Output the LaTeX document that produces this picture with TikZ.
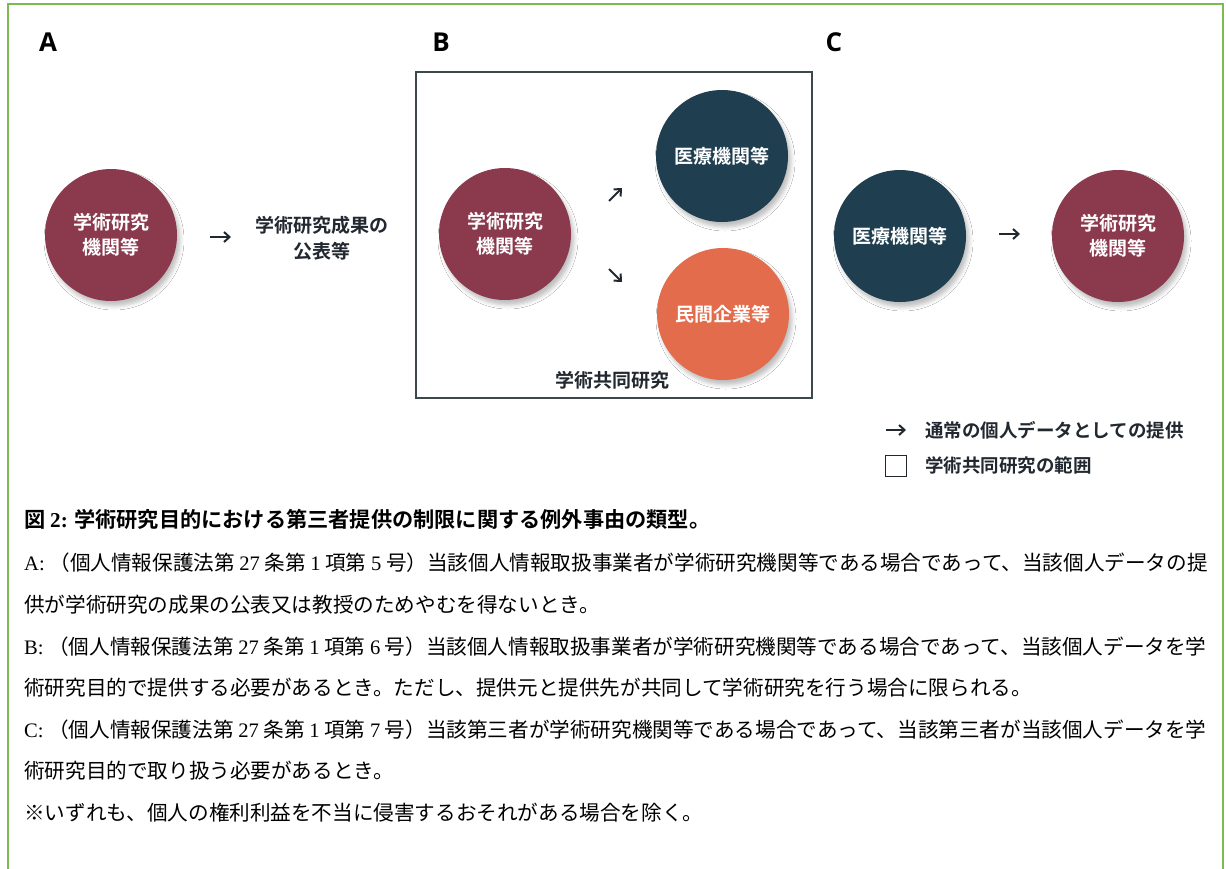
\documentclass[tikz,border=0pt]{standalone}
\usepackage{fontspec}
\newfontfamily\jp[BoldFont={Noto Sans CJK JP Bold}]{Noto Sans CJK JP}
\newfontfamily\ser{Liberation Serif}
\newfontfamily\osans{Open Sans}
\usetikzlibrary{arrows.meta,shadows.blur}
\definecolor{maroon}{RGB}{139,58,78}
\definecolor{tealc}{RGB}{31,63,80}
\definecolor{orng}{RGB}{226,108,75}
\definecolor{framec}{RGB}{125,187,80}
\definecolor{ink}{RGB}{34,40,48}
\definecolor{boxline}{RGB}{60,72,74}
\newcommand{\lat}[1]{{\ser #1}}
\tikzset{
  circ/.style={circle, minimum size=132pt, inner sep=0pt, text=white,
    font=\jp\bfseries\fontsize{19}{25}\selectfont, align=center,
    blur shadow={shadow xshift=3pt, shadow yshift=-5pt, shadow blur radius=4pt, shadow opacity=25}},
  lab/.style={font=\osans\bfseries\fontsize{26}{30}\selectfont, text=black, inner sep=0pt},
  dtext/.style={font=\jp\bfseries\fontsize{19}{26}\selectfont, text=ink, align=center, inner sep=0pt},
  conn/.style={-{Straight Barb[length=5.5pt,width=10pt,line width=2pt]}, line width=2pt, draw=ink},
  legtext/.style={font=\jp\bfseries\fontsize{18.5}{22}\selectfont, text=ink, anchor=west, inner sep=0pt},
  body/.style={font=\jp\fontsize{20.6}{24}\selectfont, text=black, anchor=west, inner sep=0pt},
  captext/.style={font=\jp\bfseries\fontsize{21.2}{24}\selectfont, text=black, anchor=west, inner sep=0pt}
}
\begin{document}
\begin{tikzpicture}[x=1pt,y=-1pt]
\useasboundingbox (0,0) rectangle (1226,868);
\fill[white] (0,0) rectangle (1226,868);
% frame
\draw[framec, line width=2pt] (8,870) -- (8,4) -- (1223,4) -- (1223,870);
% labels
\node[lab] (labA) at (48,42) {A};
\node[lab] (labB) at (441,42) {B};
\node[lab] (labC) at (834,42) {C};
% A
\node[circ, fill=maroon] (a1) at (111,235) {学術研究\\機関等};
\node[dtext] (a2) at (322,238) {学術研究成果の\\公表等};
\coordinate (as) at (210,237);
\coordinate (ae) at (231,237);
\draw[conn] (as) -- (ae);
% B
\node[draw=boxline, line width=2pt, minimum width=396pt, minimum height=326pt, inner sep=0pt] (boxB) at (614,235) {};
\node[circ, fill=maroon] (b1) at (505,234) {学術研究\\機関等};
\node[circ, fill=tealc] (b2) at (722,156) {医療機関等};
\node[circ, fill=orng] (b3) at (723,314) {民間企業等};
\node[dtext] (bt) at (612,380) {学術共同研究};
\coordinate (bus) at (609,201);
\coordinate (bue) at (622,188);
\coordinate (bds) at (609,269);
\coordinate (bde) at (622,282);
\draw[conn] (bus) -- (bue);
\draw[conn] (bds) -- (bde);
% C
\node[circ, fill=tealc] (c1) at (900,236) {医療機関等};
\node[circ, fill=maroon] (c2) at (1118,236) {学術研究\\機関等};
\coordinate (cs) at (999,234);
\coordinate (ce) at (1020,234);
\draw[conn] (cs) -- (ce);
% legend
\coordinate (ls) at (886,430);
\coordinate (le) at (906,430);
\draw[conn] (ls) -- (le);
\node[legtext] (lt1) at (925,430) {通常の個人データとしての提供};
\node[draw=ink, line width=1.6pt, minimum size=21pt, inner sep=0pt] (lsq) at (896,466) {};
\node[legtext] (lt2) at (925,465) {学術共同研究の範囲};
% caption and body
\node[captext] (capt) at (24,519) {図 \lat{\bfseries 2:} 学術研究目的における第三者提供の制限に関する例外事由の類型。};
\node[body] (ta1) at (24,563) {\lat{A:} （個人情報保護法第 \lat{27} 条第 \lat{1} 項第 \lat{5} 号）当該個人情報取扱事業者が学術研究機関等である場合であって、当該個人データの提};
\node[body] (ta2) at (24,605) {供が学術研究の成果の公表又は教授のためやむを得ないとき。};
\node[body] (tb1) at (24,647) {\lat{B:} （個人情報保護法第 \lat{27} 条第 \lat{1} 項第 \lat{6} 号）当該個人情報取扱事業者が学術研究機関等である場合であって、当該個人データを学};
\node[body] (tb2) at (24,688) {術研究目的で提供する必要があるとき。ただし、提供元と提供先が共同して学術研究を行う場合に限られる。};
\node[body] (tc1) at (24,730) {\lat{C:} （個人情報保護法第 \lat{27} 条第 \lat{1} 項第 \lat{7} 号）当該第三者が学術研究機関等である場合であって、当該第三者が当該個人データを学};
\node[body] (tc2) at (24,771) {術研究目的で取り扱う必要があるとき。};
\node[body] (tn) at (24,813) {※いずれも、個人の権利利益を不当に侵害するおそれがある場合を除く。};
\end{tikzpicture}
\end{document}
